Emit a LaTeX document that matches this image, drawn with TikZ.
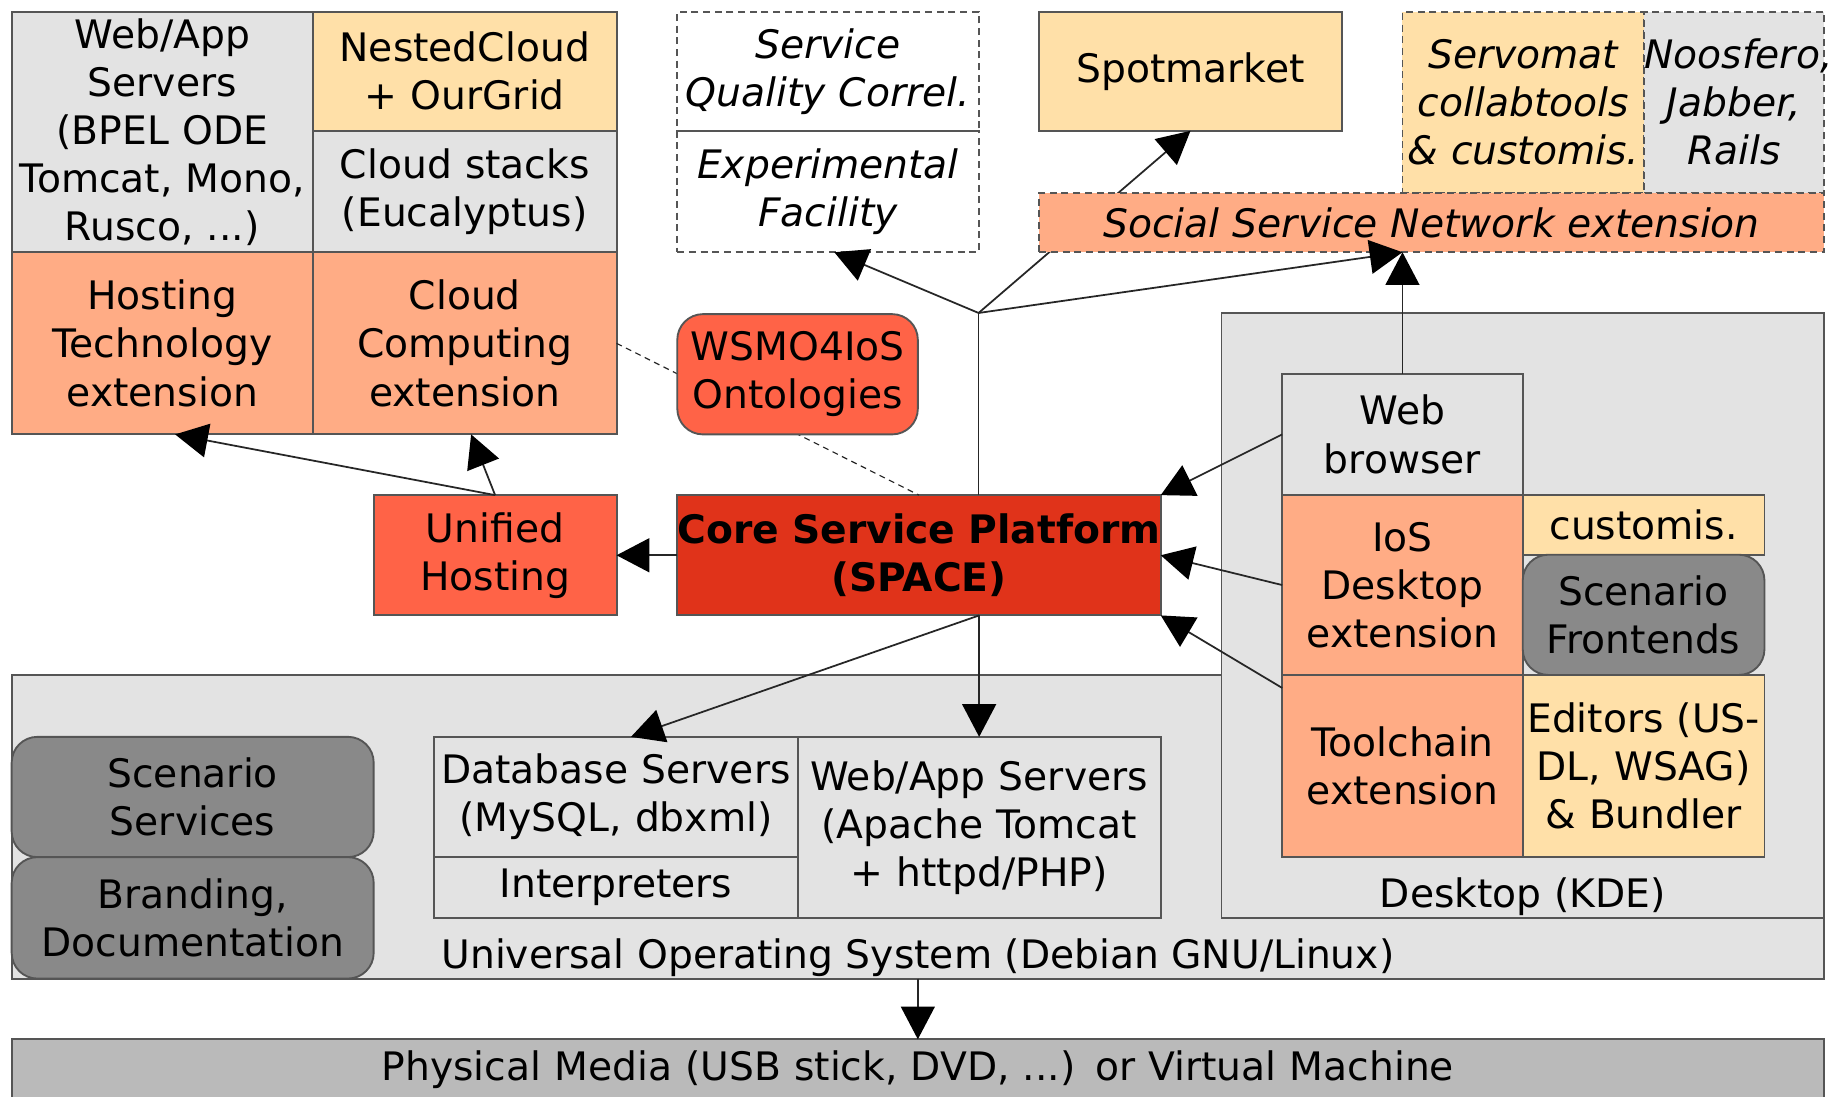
\documentclass[tikz,border=0pt]{standalone}
\usepackage{fontspec}
\setmainfont{DejaVu Sans}
\usepackage{tikz}
\usepackage{xcolor}
\usetikzlibrary{positioning,arrows.meta}
\definecolor{edge}{HTML}{555555}
\definecolor{lightgr}{HTML}{E3E3E3}
\definecolor{sand}{HTML}{FFE0A8}
\definecolor{extfill}{HTML}{FFAC85}
\definecolor{tomato}{HTML}{FF6347}
\definecolor{coreclr}{HTML}{E0331A}
\definecolor{darkgr}{HTML}{898989}
\definecolor{mediagr}{HTML}{BABABA}

\begin{document}
\begin{tikzpicture}[x=0.5pt,y=-0.5pt,
every node/.style={font=\fontsize{16.8}{20.6}\selectfont},
box/.style={draw=edge,line width=0.8pt,rectangle,inner sep=0pt,outer sep=0pt,align=center},
grey/.style={box,fill=lightgr},
ext/.style={box,fill=extfill},
tool/.style={box,fill=sand},
hot/.style={box,fill=tomato},
dark/.style={box,fill=darkgr,rounded corners=11pt},
planned/.style={dash pattern=on 3pt off 2pt,font=\fontsize{16.8}{20.6}\selectfont\itshape},
link/.style={line width=0.75pt,black!85},
arr/.style={link,-{Triangle[length=14pt,width=14.5pt,color=black]}}]
\useasboundingbox (0,0) rectangle (1568,939);
\fill[white] (0,0) rectangle (1568,939);

\node (os) [grey, text width=776pt, minimum height=130pt] at (786,708) {};
\node (desktop) [grey, text width=258pt, minimum height=259pt] at (1304,527) {};

\node (webapp) [grey, text width=129pt, minimum height=103pt] at (139,113)
    {Web/App\\Servers\\(BPEL ODE\\Tomcat, Mono,\\Rusco, ...)};
\node (nested) [tool, text width=130pt, minimum height=51pt, anchor=north west]
    at (webapp.north east) {NestedCloud\\+ OurGrid};
\node (stacks) [grey, text width=130pt, minimum height=52pt, below=0pt of nested]
    {Cloud stacks\\(Eucalyptus)};
\node (hosttech) [ext, text width=129pt, minimum height=78pt, below=0pt of webapp]
    {Hosting\\Technology\\extension};
\node (cloudcomp) [ext, text width=130pt, minimum height=78pt, right=0pt of hosttech]
    {Cloud\\Computing\\extension};
\node (quality) [box, planned, text width=129pt, minimum height=51pt] at (709,61)
    {Service\\Quality Correl.};
\node (experim) [box, planned, text width=129pt, minimum height=52pt, below=0pt of quality]
    {Experimental\\Facility};
\node (spot) [tool, text width=129.5pt, minimum height=51pt] at (1019.5,61) {Spotmarket};
\node (servomat) [tool, planned, text width=103.5pt, minimum height=77.5pt] at (1304.5,87.5)
    {Servomat\\collabtools\\\& customis.};
\node (noosfero) [grey, planned, text width=77pt, minimum height=77.5pt, right=0pt of servomat]
    {Noosfero,\\Jabber,\\Rails};

\node (unified) [hot, text width=104pt, minimum height=51.5pt] at (424,475.5) {Unified\\Hosting};
\node (core) [box, fill=coreclr, font=\fontsize{16.8}{20.6}\selectfont\bfseries,
    text width=207pt, minimum height=51.5pt] at (787,475.5) {Core Service Platform\\(SPACE)};

\coordinate (hub) at (838,268);
\draw[line width=0.5pt, black!85, dash pattern=on 2.5pt off 2pt] (cloudcomp.east) -- (core.north);
\draw[arr] (hub) -- (spot.south);

\node (wsmo) [hot, rounded corners=11pt, text width=103pt, minimum height=51.5pt]
    at (683,320.5) {WSMO4IoS\\Ontologies};
\node (social) [ext, planned, text width=336pt, minimum height=25.5pt, anchor=north east]
    at (noosfero.south east) {Social Service Network extension};

\node (browser) [grey, text width=103pt, minimum height=52pt] at (1201,372) {Web\\browser};
\node (iosdesk) [ext, text width=103pt, minimum height=77pt, below=0pt of browser]
    {IoS\\Desktop\\extension};
\node (toolchain) [ext, text width=103pt, minimum height=78pt, below=0pt of iosdesk]
    {Toolchain\\extension};
\node (customis) [tool, text width=103.5pt, minimum height=25.5pt, anchor=north west]
    at (iosdesk.north east) {customis.};
\node (frontends) [dark, text width=103.5pt, minimum height=51.5pt, below=0pt of customis]
    {Scenario\\Frontends};
\node (editors) [tool, text width=103.5pt, minimum height=78pt, right=0pt of toolchain]
    {Editors (US-\\DL, WSAG)\\\& Bundler};
\node (deskname) at (1304,768) {Desktop (KDE)};

\node (scenserv) [dark, text width=155pt, minimum height=51.5pt] at (165,682.5) {Scenario\\Services};
\node (branding) [dark, text width=155pt, minimum height=52pt, below=0pt of scenserv]
    {Branding,\\Documentation};
\node (dbserv) [grey, text width=155.5pt, minimum height=51.5pt] at (527.5,682.5)
    {Database Servers\\(MySQL, dbxml)};
\node (interp) [grey, text width=155.5pt, minimum height=26pt, below=0pt of dbserv] {Interpreters};
\node (webserv) [grey, text width=155.5pt, minimum height=77.5pt, anchor=north west]
    at (dbserv.north east) {Web/App Servers\\(Apache Tomcat\\+ httpd/PHP)};
\node (osname) at (786,820) {Universal Operating System (Debian GNU/Linux)};
\node (media) [box, fill=mediagr, text width=776pt, minimum height=26pt] at (786,916)
    {Physical Media (USB stick, DVD, ...) or Virtual Machine};

\draw[arr] (core.west) -- (unified.east);
\draw[arr] (unified.north) -- (hosttech.-82);
\draw[arr] (unified.north) -- (cloudcomp.-86);
\draw[link] (core.north -| hub) -- (hub);
\draw[arr] (hub) -- (experim.-84);
\draw[arr] (hub) -- (social.south -| browser.north);
\draw[arr] (browser.north) -- (social.south -| browser.north);
\draw[arr] (browser.west) -- (core.north east);
\draw[arr] (iosdesk.west) -- (core.east);
\draw[arr] (toolchain.147) -- (core.south east);
\draw[arr] (core.south -| webserv.north) -- (webserv.north);
\draw[arr] (core.south -| webserv.north) -- (dbserv.76);
\draw[arr] (os.south) -- (media.north);
\end{tikzpicture}
\end{document}
